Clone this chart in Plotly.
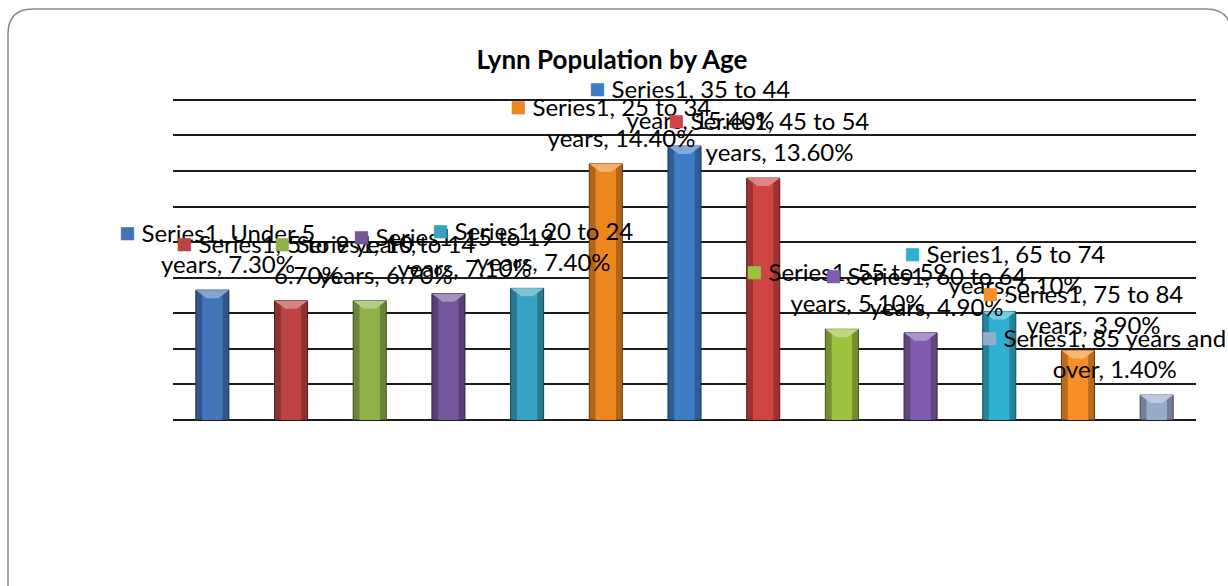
import textwrap
import plotly.graph_objects as go

# ---- data -------------------------------------------------------------
series_name = "Series1"
age_groups = [
    "Under 5 years", "5 to 9 years", "10 to 14 years", "15 to 19 years",
    "20 to 24 years", "25 to 34 years", "35 to 44 years", "45 to 54 years",
    "55 to 59 years", "60 to 64 years", "65 to 74 years", "75 to 84 years",
    "85 years and over",
]
share_pct = [7.3, 6.7, 6.7, 7.1, 7.4, 14.4, 15.4, 13.6, 5.1, 4.9, 6.1, 3.9, 1.4]
chart_title = "Lynn Population by Age"

# ---- styling ----------------------------------------------------------
bar_colors = [
    "#4275B8", "#BC4341", "#90B04A", "#74579B", "#37A3C0", "#EE861F",
    "#3F7CC6", "#CF4544", "#9CC23F", "#7F5CAE", "#2FB0D2", "#F78E26",
    "#97ABCB",
]
label_xshift = [5] * 12 + [-53]
FONT = "Lato, 'Open Sans', sans-serif"

W, H = 1228, 586
Y_TOP = 18.1
ML, MR, MB = 173, 32, 166
MT = int(round(100 - (Y_TOP - 18) * 320 / 18))
PLOT_W, PLOT_H = W - ML - MR, H - MT - MB


def px_x(p):
    return (p - ML) / PLOT_W


def px_y(p):
    return (H - MB - p) / PLOT_H


def shade(hex_color, f):
    h = hex_color.lstrip("#")
    r, g, b = (int(h[k:k + 2], 16) for k in (0, 2, 4))
    return "rgb({},{},{})".format(int(r * f), int(g * f), int(b * f))


def tint(hex_color, f):
    h = hex_color.lstrip("#")
    r, g, b = (int(h[k:k + 2], 16) for k in (0, 2, 4))
    return "rgb({},{},{})".format(int(r + (255 - r) * f), int(g + (255 - g) * f),
                                  int(b + (255 - b) * f))


idx = list(range(len(age_groups)))
BAR_W = 0.42
INNER_W = 0.26

fig = go.Figure()

# bevelled columns: dark outer body, brighter core
fig.add_trace(go.Bar(
    x=idx, y=share_pct, width=BAR_W,
    marker=dict(color=[shade(c, 0.75) for c in bar_colors],
                line=dict(color=[shade(c, 0.42) for c in bar_colors], width=1)),
    hoverinfo="skip", showlegend=False,
))
fig.add_trace(go.Bar(
    x=idx, y=share_pct, width=INNER_W,
    marker=dict(color=bar_colors, line=dict(width=0)),
    hoverinfo="skip", showlegend=False,
))

# light top facet of each column
facet_depth = 0.45
for i, v in enumerate(share_pct):
    half = BAR_W / 2
    xs = [i - half, i + half, i + half * 0.35, i - half * 0.35, i - half]
    ys = [v, v, v - facet_depth, v - facet_depth, v]
    fig.add_trace(go.Scatter(
        x=xs, y=ys, mode="lines", fill="toself",
        fillcolor=tint(bar_colors[i], 0.35), line=dict(width=0),
        hoverinfo="skip", showlegend=False,
    ))

# data labels with legend keys
annotations = []
for i, (cat, v) in enumerate(zip(age_groups, share_pct)):
    lines = textwrap.wrap(f"{series_name}, {cat}, {v:.2f}%", 22)
    key = '<span style="color:{};font-size:27px">■</span> '
    first = key.format(bar_colors[i]) + lines[0]
    rest = "<br>".join(key.format("rgba(0,0,0,0)") + ln for ln in lines[1:])
    annotations.append(dict(
        x=i, y=v, xref="x", yref="y", showarrow=False,
        text=first + "<br>" + rest,
        xshift=label_xshift[i], yshift=43,
        font=dict(family=FONT, size=24, color="#000000"),
    ))

# rounded chart frame
fl, ft, fr, fb, rad = 8, 9, 1231, 640, 25
frame_path = (
    f"M {px_x(fl)} {px_y(fb)} L {px_x(fl)} {px_y(ft + rad)} "
    f"Q {px_x(fl)} {px_y(ft)} {px_x(fl + rad)} {px_y(ft)} "
    f"L {px_x(fr - rad)} {px_y(ft)} "
    f"Q {px_x(fr)} {px_y(ft)} {px_x(fr)} {px_y(ft + rad)} "
    f"L {px_x(fr)} {px_y(fb)}"
)

fig.update_layout(
    width=W, height=H,
    margin=dict(l=ML, r=MR, t=MT, b=MB),
    paper_bgcolor="white", plot_bgcolor="white",
    barmode="overlay",
    title=dict(text=f"<b>{chart_title}</b>", x=612 / W, y=1 - 60 / H,
               xanchor="center", yanchor="middle",
               font=dict(family=FONT, size=26, color="black")),
    xaxis=dict(range=[-0.5, len(age_groups) - 0.5], showticklabels=False,
               showgrid=False, zeroline=False, showline=False, ticks=""),
    yaxis=dict(range=[0, Y_TOP], dtick=2, showticklabels=False, ticks="",
               showgrid=True, gridcolor="#1c1c1c", gridwidth=2,
               zeroline=True, zerolinecolor="#1c1c1c", zerolinewidth=2,
               showline=False),
    annotations=annotations,
    shapes=[dict(type="path", path=frame_path, xref="paper", yref="paper",
                 line=dict(color="#8a8a8a", width=1.5), layer="above")],
)

fig.write_html("out.html")
